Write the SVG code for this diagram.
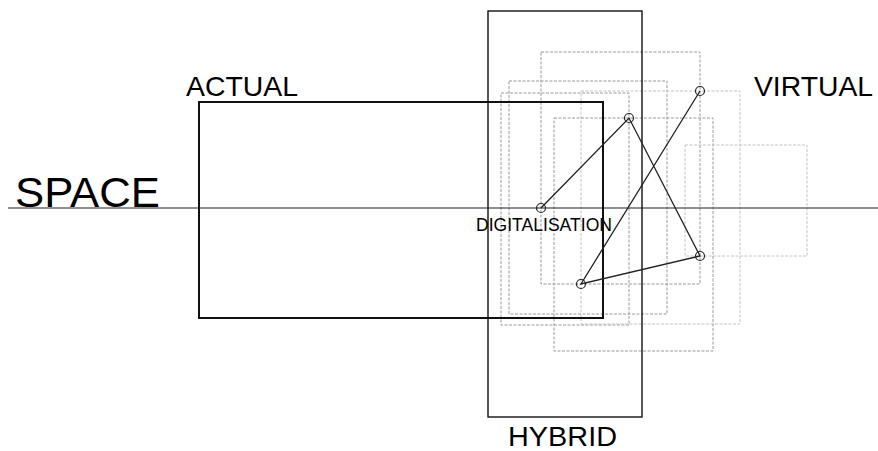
<svg xmlns="http://www.w3.org/2000/svg" width="878" height="451" viewBox="0 0 878 451">
<style>
.t{font-family:"Liberation Sans",Arial,sans-serif;fill:#000}
.d{fill:none;stroke:#9a9a9a;stroke-width:1;stroke-dasharray:3 1.5}
.dl{fill:none;stroke:#c4c4c4;stroke-width:1;stroke-dasharray:3 1.5}
.c{fill:none;stroke:#222;stroke-width:1.2}
.l{stroke:#222;stroke-width:1.3;fill:none}
</style>
<rect width="878" height="451" fill="#fff"/>
<g id="virtual-frames">
<rect class="d" x="541" y="52" width="159" height="232"/>
<rect class="d" x="509" y="81" width="158" height="233"/>
<rect class="d" x="501" y="93" width="128" height="232"/>
<rect class="dl" x="581" y="91" width="159" height="233"/>
<rect class="d" x="554" y="118" width="159" height="233"/>
<rect class="dl" x="685" y="145" width="122" height="111"/>
</g>
<g id="space-axis"><line x1="8" y1="208" x2="878" y2="208" stroke="#222" stroke-width="1.2"/></g>
<g id="actual"><rect x="199" y="102" width="404" height="216" fill="none" stroke="#111" stroke-width="2"/></g>
<g id="hybrid"><rect x="488" y="11" width="154" height="406" fill="none" stroke="#111" stroke-width="1.4"/></g>
<g id="connectors">
<polyline class="l" points="541,208 629,118 700,256 581,284 700,91"/>
</g>
<g id="nodes">
<circle class="c" cx="541" cy="208" r="4.5"/>
<circle class="c" cx="629" cy="118" r="4.5"/>
<circle class="c" cx="700" cy="91" r="4.5"/>
<circle class="c" cx="700" cy="256" r="4.5"/>
<circle class="c" cx="581" cy="284" r="4.5"/>
</g>
<g id="labels">
<text class="t" x="15" y="207" font-size="43" textLength="145" lengthAdjust="spacingAndGlyphs">SPACE</text>
<text class="t" x="186" y="96" font-size="28.5" textLength="112" lengthAdjust="spacingAndGlyphs">ACTUAL</text>
<text class="t" x="754" y="96" font-size="28.5" textLength="119" lengthAdjust="spacingAndGlyphs">VIRTUAL</text>
<text class="t" x="508" y="446" font-size="28" textLength="109" lengthAdjust="spacingAndGlyphs">HYBRID</text>
<text class="t" x="476" y="231" font-size="18" textLength="136" lengthAdjust="spacingAndGlyphs">DIGITALISATION</text>
</g>
</svg>
